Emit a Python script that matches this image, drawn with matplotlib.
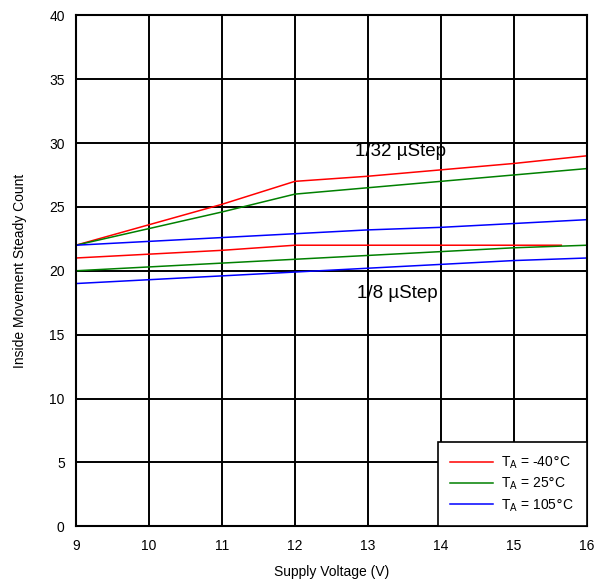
#!/usr/bin/env python3

import matplotlib
matplotlib.use('Agg')
import matplotlib.pyplot as plt

plt.rcParams['font.family'] = ['Liberation Sans', 'DejaVu Sans']

# upper group (1/32 uStep)
x_hi = [9, 10, 11, 12, 13, 14, 15, 16]
red_hi = [22, 23.6, 25.2, 27, 27.4, 27.9, 28.4, 29]
green_hi = [22, 23.3, 24.6, 26, 26.5, 27, 27.5, 28]
blue_hi = [22, 22.3, 22.6, 22.9, 23.2, 23.4, 23.7, 24]

# lower group (1/8 uStep)
x_red_lo = [9, 10, 11, 12, 13, 14, 15, 15.65]
red_lo = [21, 21.3, 21.6, 22, 22, 22, 22, 22]
x_lo = [9, 10, 11, 12, 13, 14, 15, 16]
green_lo = [20, 20.3, 20.6, 20.9, 21.2, 21.5, 21.8, 22]
blue_lo = [19, 19.3, 19.6, 19.9, 20.2, 20.5, 20.8, 21]

fig = plt.figure(figsize=(5.97, 5.88), dpi=100)
ax = fig.add_axes([0.127, 0.105, 0.856, 0.869])

lw = 1.1
ax.plot(x_hi, red_hi, color='#ff0000', lw=lw, label=r'T$_\mathregular{A}$ = -40$\degree$C')
ax.plot(x_hi, green_hi, color='#008000', lw=lw, label=r'T$_\mathregular{A}$ = 25$\degree$C')
ax.plot(x_hi, blue_hi, color='#0000ff', lw=lw, label=r'T$_\mathregular{A}$ = 105$\degree$C')
ax.plot(x_red_lo, red_lo, color='#ff0000', lw=lw)
ax.plot(x_lo, green_lo, color='#008000', lw=lw)
ax.plot(x_lo, blue_lo, color='#0000ff', lw=lw)

ax.text(13.45, 29.3, '1/32 \u00b5Step', fontsize=13.5, ha='center', va='center')
ax.text(13.4, 18.2, '1/8 \u00b5Step', fontsize=13.5, ha='center', va='center')

ax.set_xlim(9, 16)
ax.set_ylim(0, 40)
ax.set_xticks(range(9, 17))
ax.set_yticks(range(0, 41, 5))
ax.grid(True, color='black', lw=1.4)
ax.set_axisbelow(True)
for s in ax.spines.values():
    s.set_color('black')
    s.set_linewidth(1.5)
ax.tick_params(axis='x', length=0, labelsize=10, pad=9)
ax.tick_params(axis='y', length=0, labelsize=10, pad=8)
ax.set_xlabel('Supply Voltage (V)', fontsize=10, labelpad=9)
ax.set_ylabel('Inside Movement Steady Count', fontsize=10, labelpad=16)

leg = ax.legend(loc='lower right', fontsize=10, frameon=True, fancybox=False,
                edgecolor='black', framealpha=1, borderaxespad=0,
                handlelength=3.1, handletextpad=0.6, borderpad=0.9,
                labelspacing=0.35)
leg.get_frame().set_linewidth(1.2)

fig.savefig('out.png', dpi=100)
